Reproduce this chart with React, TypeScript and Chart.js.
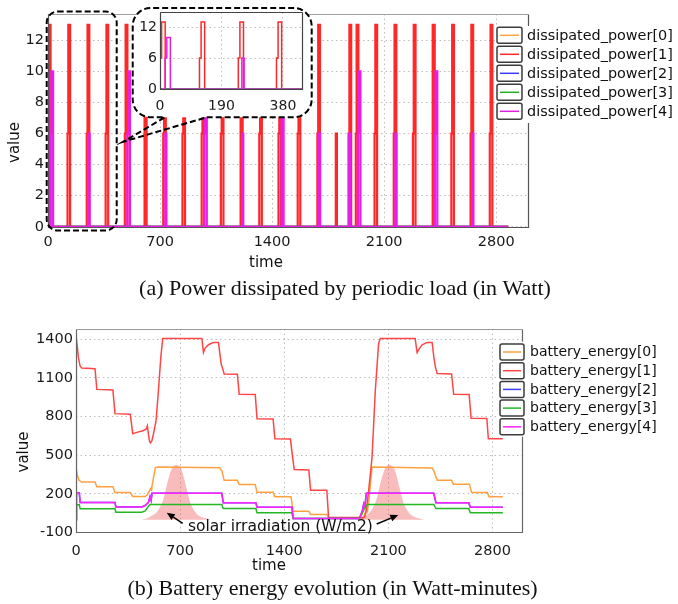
import React, { useEffect, useRef } from "react";
import { Chart, registerables } from "chart.js";

Chart.register(...registerables);

// ================= (a) Power dissipated by periodic load =================
const powerXTicks = [0, 700, 1400, 2100, 2800];
const powerYTicks = [0, 2, 4, 6, 8, 10, 12];
const insetXTicks = [0, 190, 380];
const insetYTicks = [0, 6, 12];
const powerLabels = [
  "dissipated_power[0]",
  "dissipated_power[1]",
  "dissipated_power[2]",
  "dissipated_power[3]",
  "dissipated_power[4]",
];
const powerEndTime = 2875;
const pulseLead = 5; // time spent on the 6 W step before a peak
const pulseWidth = 11; // time spent at the peak
const shortPulseWidth = 7; // width of a lone 6 W pulse
const redPulseTimes = [5, 127, 247, 365, 485, 605, 725, 845, 965, 1085, 1205, 1325, 1445, 1565, 1688, 1798, 1883, 1928, 2045, 2165, 2285, 2405, 2525, 2645, 2765];
const redPulseLevels = [13, 13, 13, 13, 13, 13, 13, 13, 13, 13, 13, 13, 13, 13, 13, 6, 13, 13, 13, 13, 13, 13, 13, 13, 13];
const magentaPulseTimes = [21, 253, 501, 733, 981, 1213, 1461, 1693, 1880, 1941, 2170, 2421, 2650];
const magentaPulseLevels = [10, 6, 10, 6, 10, 6, 10, 6, 6, 10, 6, 10, 6];
const flatPowerTimes = [0, 2875];
const flatPowerValues = [0, 0];

// ================= (b) Battery energy evolution =================
const energyXTicks = [0, 700, 1400, 2100, 2800];
const energyYTicks = [-100, 200, 500, 800, 1100, 1400];
const energyLabels = [
  "battery_energy[0]",
  "battery_energy[1]",
  "battery_energy[2]",
  "battery_energy[3]",
  "battery_energy[4]",
];
const energy0Time = [0, 2, 10, 20, 38, 128, 140, 248, 262, 365, 381, 465, 480, 498, 505, 508, 511, 533, 547, 965, 980, 996, 1085, 1097, 1205, 1217, 1325, 1337, 1445, 1460, 1565, 1577, 1688, 1700, 1930, 1945, 1955, 1960, 1968, 1990, 2394, 2405, 2428, 2525, 2537, 2645, 2660, 2765, 2777, 2869];
const energy0Value = [0, 390, 340, 305, 292, 292, 255, 255, 210, 210, 180, 180, 195, 234, 247, 221, 260, 402, 408, 402, 380, 305, 305, 272, 272, 212, 212, 178, 178, 65, 65, 40, 40, 12, 12, 55, 90, 70, 140, 408, 400, 380, 305, 305, 275, 275, 210, 210, 177, 177];
const energy1Time = [0, 2, 9, 16, 27, 38, 128, 140, 248, 262, 365, 381, 403, 449, 471, 480, 487, 494, 500, 510, 520, 538, 554, 570, 583, 846, 857, 868, 890, 924, 958, 969, 976, 987, 996, 1085, 1097, 1205, 1217, 1325, 1337, 1442, 1451, 1467, 1565, 1577, 1686, 1698, 1939, 1950, 1967, 1990, 2012, 2034, 2045, 2280, 2293, 2310, 2327, 2361, 2394, 2406, 2417, 2428, 2525, 2539, 2643, 2656, 2762, 2772, 2869];
const energy1Value = [0, 1410, 1335, 1258, 1193, 1175, 1170, 1010, 1005, 822, 818, 667, 675, 690, 702, 728, 661, 609, 596, 610, 661, 765, 998, 1257, 1405, 1405, 1296, 1330, 1356, 1374, 1374, 1270, 1206, 1167, 1130, 1128, 972, 970, 783, 781, 628, 626, 531, 389, 386, 229, 228, 18, 18, 60, 221, 480, 998, 1362, 1405, 1405, 1296, 1330, 1355, 1374, 1374, 1257, 1179, 1133, 1130, 972, 970, 786, 784, 628, 628];
const energy4Time = [0, 3, 22, 28, 262, 268, 442, 465, 487, 498, 505, 511, 980, 990, 1209, 1217, 1451, 1460, 1905, 1925, 1935, 1942, 1952, 2405, 2420, 2640, 2651, 2869];
const energy4Value = [0, 208, 208, 133, 133, 99, 99, 110, 135, 180, 150, 205, 205, 131, 131, 97, 97, 10, 10, 70, 125, 105, 205, 205, 131, 131, 97, 97];
const energy2Time = energy4Time; // hidden under battery_energy[4]
const energy2Value = energy4Value;
const energy3Time = [0, 3, 22, 28, 262, 268, 442, 465, 487, 498, 980, 990, 1209, 1217, 1451, 1460, 1905, 1925, 1945, 1960, 2405, 2420, 2640, 2651, 2869];
const energy3Value = [0, 115, 115, 84, 84, 58, 58, 68, 104, 117, 117, 86, 86, 53, 53, 10, 10, 50, 100, 117, 117, 86, 86, 53, 53];
const solarTime = [440, 476, 510, 543, 570, 588, 605, 621, 644, 660, 673, 686, 700, 717, 733, 750, 767, 790, 812, 845, 879, 910, 1873, 1909, 1943, 1976, 2003, 2021, 2038, 2054, 2077, 2093, 2106, 2119, 2133, 2150, 2166, 2183, 2200, 2223, 2245, 2278, 2312, 2343];
const solarValue = [0, 10, 30, 57, 110, 161, 240, 317, 395, 420, 426, 420, 408, 360, 291, 210, 135, 80, 44, 20, 10, 0, 0, 10, 30, 57, 110, 161, 240, 317, 395, 420, 426, 420, 408, 360, 291, 210, 135, 80, 44, 20, 10, 0];

// ================= helpers =================
type Pt = { x: number; y: number };
const zip = (xs: number[], ys: number[]): Pt[] => xs.map((x, i) => ({ x, y: ys[i] }));

function pulseSeries(times: number[], levels: number[]): Pt[] {
  const pts: Pt[] = [{ x: 0, y: 0 }];
  times.forEach((t, i) => {
    const lvl = levels[i];
    if (lvl > 6) {
      pts.push(
        { x: t - pulseLead, y: 0 },
        { x: t - pulseLead, y: 6 },
        { x: t, y: 6 },
        { x: t, y: lvl },
        { x: t + pulseWidth, y: lvl },
        { x: t + pulseWidth, y: 0 }
      );
    } else {
      pts.push({ x: t, y: 0 }, { x: t, y: lvl }, { x: t + shortPulseWidth, y: lvl }, { x: t + shortPulseWidth, y: 0 });
    }
  });
  pts.push({ x: powerEndTime, y: 0 });
  return pts;
}

const SANS = "'DejaVu Sans', 'Open Sans', sans-serif";
const SERIF = "'Liberation Serif', 'Times New Roman', serif";
const powerColors = ["#ffa040", "rgba(255,10,10,0.88)", "#3a3aff", "#20b020", "#e81ee8"];
const powerLegendColors = ["#ffa640", "#ff2a2a", "#3a3aff", "#20b020", "#e020e0"];
const energyColors = ["#ffa040", "#ff4545", "#4040ff", "#22b822", "#ff22ff"];

function xAxis(min: number, max: number, ticks: number[], height: number, pad: number, size: number) {
  return {
    type: "linear",
    min,
    max,
    afterBuildTicks: (s: any) => {
      s.ticks = ticks.map((v) => ({ value: v }));
    },
    afterFit: (s: any) => {
      s.height = height;
      s.paddingLeft = 0;
      s.paddingRight = 0;
    },
    ticks: { font: { family: SANS, size }, color: "#1a1a1a", padding: pad, maxRotation: 0, autoSkip: false, callback: (v: any) => String(v) },
    grid: { color: "#bdbdbd", lineWidth: 1, drawTicks: false },
    border: { display: false, dash: [1.5, 3] },
  };
}
function yAxis(min: number, max: number, ticks: number[], width: number, pad: number, size: number) {
  return {
    type: "linear",
    min,
    max,
    afterBuildTicks: (s: any) => {
      s.ticks = ticks.map((v) => ({ value: v }));
    },
    afterFit: (s: any) => {
      s.width = width;
      s.paddingTop = 0;
      s.paddingBottom = 0;
    },
    ticks: { font: { family: SANS, size }, color: "#1a1a1a", padding: pad, autoSkip: false, callback: (v: any) => String(v) },
    grid: { color: "#bdbdbd", lineWidth: 1, drawTicks: false },
    border: { display: false, dash: [1.5, 3] },
  };
}

function drawFrame(ctx: CanvasRenderingContext2D, a: any, topColor: string, sideColor: string) {
  const l = Math.round(a.left) + 0.5,
    r = Math.round(a.right) - 0.5,
    t = Math.round(a.top) + 0.5,
    b = Math.round(a.bottom) - 0.5;
  ctx.lineWidth = 1.2;
  ctx.setLineDash([]);
  ctx.strokeStyle = sideColor;
  ctx.beginPath();
  ctx.moveTo(l, t);
  ctx.lineTo(l, b);
  ctx.lineTo(r, b);
  ctx.lineTo(r, t);
  ctx.stroke();
  ctx.strokeStyle = topColor;
  ctx.beginPath();
  ctx.moveTo(l, t);
  ctx.lineTo(r, t);
  ctx.stroke();
}

type LegendOpts = { bg: number[]; boxX: number; boxW: number; boxH: number; y0: number; step: number; textX: number; font: string };
function drawLegend(ctx: CanvasRenderingContext2D, labels: string[], colors: string[], o: LegendOpts) {
  ctx.setLineDash([]);
  ctx.fillStyle = "#fff";
  ctx.fillRect(o.bg[0], o.bg[1], o.bg[2], o.bg[3]);
  labels.forEach((lab, i) => {
    const cy = o.y0 + i * o.step;
    ctx.lineWidth = 1.5;
    ctx.strokeStyle = "#3c3c3c";
    ctx.beginPath();
    (ctx as any).roundRect(o.boxX, cy - o.boxH / 2, o.boxW, o.boxH, 2);
    ctx.stroke();
    ctx.strokeStyle = colors[i];
    ctx.beginPath();
    ctx.moveTo(o.boxX + 3, cy);
    ctx.lineTo(o.boxX + o.boxW - 3, cy);
    ctx.stroke();
    ctx.fillStyle = "#111";
    ctx.font = o.font;
    ctx.textAlign = "left";
    ctx.textBaseline = "middle";
    ctx.fillText(lab, o.textX, cy + 0.5);
  });
}

function drawText(ctx: CanvasRenderingContext2D, text: string, x: number, y: number, font: string, align: CanvasTextAlign, rotate = false) {
  ctx.save();
  ctx.font = font;
  ctx.fillStyle = "#111";
  ctx.textAlign = align;
  ctx.textBaseline = rotate ? "middle" : "alphabetic";
  ctx.translate(x, y);
  if (rotate) ctx.rotate(-Math.PI / 2);
  ctx.fillText(text, 0, 0);
  ctx.restore();
}

function arrow(ctx: CanvasRenderingContext2D, x1: number, y1: number, x2: number, y2: number) {
  const ang = Math.atan2(y2 - y1, x2 - x1);
  const hl = 8,
    hw = 3.5;
  const bx = x2 - hl * Math.cos(ang),
    by = y2 - hl * Math.sin(ang);
  ctx.setLineDash([]);
  ctx.strokeStyle = "#000";
  ctx.fillStyle = "#000";
  ctx.lineWidth = 1.5;
  ctx.beginPath();
  ctx.moveTo(x1, y1);
  ctx.lineTo(bx, by);
  ctx.stroke();
  ctx.beginPath();
  ctx.moveTo(x2, y2);
  ctx.lineTo(bx + hw * Math.sin(ang), by - hw * Math.cos(ang));
  ctx.lineTo(bx - hw * Math.sin(ang), by + hw * Math.cos(ang));
  ctx.closePath();
  ctx.fill();
}

function roundedPath(ctx: CanvasRenderingContext2D, x: number, y: number, w: number, h: number, r: number) {
  ctx.beginPath();
  (ctx as any).roundRect(x, y, w, h, r);
}

// ================= plugins =================
const decorA = {
  id: "decorA",
  afterDraw(chart: any) {
    const ctx: CanvasRenderingContext2D = chart.ctx;
    const a = chart.chartArea;
    ctx.save();
    drawFrame(ctx, a, "#a0a0a0", "#555");
    drawLegend(ctx, powerLabels, powerLegendColors, {
      bg: [495, 26, 183, 97],
      boxX: 497,
      boxW: 25,
      boxH: 16,
      y0: 35.3,
      step: 19,
      textX: 527,
      font: `14.4px ${SANS}`,
    });
    // zoomed-region box
    ctx.setLineDash([6, 3]);
    ctx.lineWidth = 2;
    ctx.strokeStyle = "#000";
    roundedPath(ctx, 46.7, 11.5, 70, 219, 11);
    ctx.stroke();
    // inset call-out
    const L = 132.7,
      R = 311.7,
      T = 8,
      B = 117.3,
      r = 18;
    ctx.setLineDash([]);
    ctx.fillStyle = "#fff";
    roundedPath(ctx, L, T, R - L, B - T, r);
    ctx.fill();
    ctx.setLineDash([6, 3]);
    ctx.beginPath();
    ctx.moveTo(206.7, B);
    ctx.lineTo(R - r, B);
    ctx.arcTo(R, B, R, B - r, r);
    ctx.lineTo(R, T + r);
    ctx.arcTo(R, T, R - r, T, r);
    ctx.lineTo(L + r, T);
    ctx.arcTo(L, T, L, T + r, r);
    ctx.lineTo(L, B - r);
    ctx.arcTo(L, B, L + r, B, r);
    ctx.lineTo(165, B);
    ctx.lineTo(123.3, 141.7);
    ctx.lineTo(206.7, B);
    ctx.stroke();
    ctx.setLineDash([]);
    drawText(ctx, "value", 15, 142.5, `15px ${SANS}`, "center", true);
    drawText(ctx, "time", 266, 266.5, `15px ${SANS}`, "center");
    drawText(ctx, "(a) Power dissipated by periodic load (in Watt)", 345, 295, `22px ${SERIF}`, "center");
    ctx.restore();
  },
};

const decorInset = {
  id: "decorInset",
  afterDraw(chart: any) {
    const ctx: CanvasRenderingContext2D = chart.ctx;
    ctx.save();
    drawFrame(ctx, chart.chartArea, "#444", "#444");
    ctx.restore();
  },
};

const decorB = {
  id: "decorB",
  afterDraw(chart: any) {
    const ctx: CanvasRenderingContext2D = chart.ctx;
    ctx.save();
    drawFrame(ctx, chart.chartArea, "#9a9a9a", "#666");
    drawLegend(ctx, energyLabels, energyColors, {
      bg: [498, 41.7, 180, 95],
      boxX: 500,
      boxW: 24,
      boxH: 16,
      y0: 52,
      step: 18.7,
      textX: 530,
      font: `14px ${SANS}`,
    });
    drawText(ctx, "solar irradiation (W/m2)", 188, 231, `15.5px ${SANS}`, "left");
    arrow(ctx, 182.7, 223.3, 166.7, 212.7);
    arrow(ctx, 376.7, 224, 398.3, 215);
    drawText(ctx, "value", 24, 152, `15px ${SANS}`, "center", true);
    drawText(ctx, "time", 269, 270, `15px ${SANS}`, "center");
    drawText(ctx, "(b) Battery energy evolution (in Watt-minutes)", 332.5, 295, `22px ${SERIF}`, "center");
    ctx.restore();
  },
};

// ================= datasets =================
function powerDatasets(width: number) {
  const series = [
    zip(flatPowerTimes, flatPowerValues),
    pulseSeries(redPulseTimes, redPulseLevels),
    zip(flatPowerTimes, flatPowerValues),
    zip(flatPowerTimes, flatPowerValues),
    pulseSeries(magentaPulseTimes, magentaPulseLevels),
  ];
  return series.map((data, i) => ({
    label: powerLabels[i],
    data,
    borderColor: powerColors[i],
    borderWidth: width,
    pointRadius: 0,
    tension: 0,
    fill: false,
    order: -i,
  }));
}

function energyDatasets() {
  const series = [
    zip(energy0Time, energy0Value),
    zip(energy1Time, energy1Value),
    zip(energy2Time, energy2Value),
    zip(energy3Time, energy3Value),
    zip(energy4Time, energy4Value),
  ];
  const lines: any[] = series.map((data, i) => ({
    label: energyLabels[i],
    data,
    borderColor: energyColors[i],
    borderWidth: 1.5,
    pointRadius: 0,
    tension: 0,
    fill: false,
    order: -i,
  }));
  lines.push({
    label: "solar irradiation (W/m2)",
    data: zip(solarTime, solarValue),
    borderWidth: 0,
    borderColor: "rgba(0,0,0,0)",
    backgroundColor: "rgba(240,80,80,0.38)",
    pointRadius: 0,
    cubicInterpolationMode: "monotone",
    fill: "origin",
    order: 10,
  });
  return lines;
}

const common = {
  animation: false,
  responsive: false,
  devicePixelRatio: 1,
  events: [],
  plugins: { legend: { display: false }, tooltip: { enabled: false }, title: { display: false } },
};

export default function App() {
  const refA = useRef<HTMLCanvasElement>(null);
  const refI = useRef<HTMLCanvasElement>(null);
  const refB = useRef<HTMLCanvasElement>(null);

  useEffect(() => {
    const chartA = new Chart(refA.current as HTMLCanvasElement, {
      type: "line",
      data: { datasets: powerDatasets(2.2) as any },
      options: {
        ...(common as any),
        layout: { padding: { top: 14, right: 149, bottom: 50, left: 0 } },
        scales: {
          x: xAxis(0, 3005, powerXTicks, 22, 6, 14.5) as any,
          y: yAxis(-0.08, 13.7, powerYTicks, 48, 4, 14.5) as any,
        },
      },
      plugins: [decorA],
    });
    const chartI = new Chart(refI.current as HTMLCanvasElement, {
      type: "line",
      data: { datasets: powerDatasets(1.5) as any },
      options: {
        ...(common as any),
        layout: { padding: { top: 6.3, right: 9, bottom: 8.3, left: 0 } },
        scales: {
          x: xAxis(0, 442, insetXTicks, 20, 8, 14) as any,
          y: yAxis(-0.1, 14.85, insetYTicks, 27, 3, 14) as any,
        },
      },
      plugins: [decorInset],
    });
    const chartB = new Chart(refB.current as HTMLCanvasElement, {
      type: "line",
      data: { datasets: energyDatasets() },
      options: {
        ...(common as any),
        layout: { padding: { top: 29, right: 155, bottom: 44, left: 0 } },
        scales: {
          x: xAxis(0, 3005, energyXTicks, 27, 10, 14.5) as any,
          y: yAxis(-103, 1478, energyYTicks, 76, 3, 14.5) as any,
        },
      },
      plugins: [decorB],
    });
    return () => {
      chartA.destroy();
      chartI.destroy();
      chartB.destroy();
    };
  }, []);

  return (
    <div style={{ position: "absolute", left: 0, top: 0, width: 678, height: 604, background: "#fff", overflow: "hidden" }}>
      <canvas ref={refA} width={678} height={300} style={{ position: "absolute", left: 0, top: 0, width: 678, height: 300 }} />
      <canvas ref={refI} width={179} height={112} style={{ position: "absolute", left: 133, top: 6, width: 179, height: 112 }} />
      <canvas ref={refB} width={678} height={304} style={{ position: "absolute", left: 0, top: 300, width: 678, height: 304 }} />
    </div>
  );
}
